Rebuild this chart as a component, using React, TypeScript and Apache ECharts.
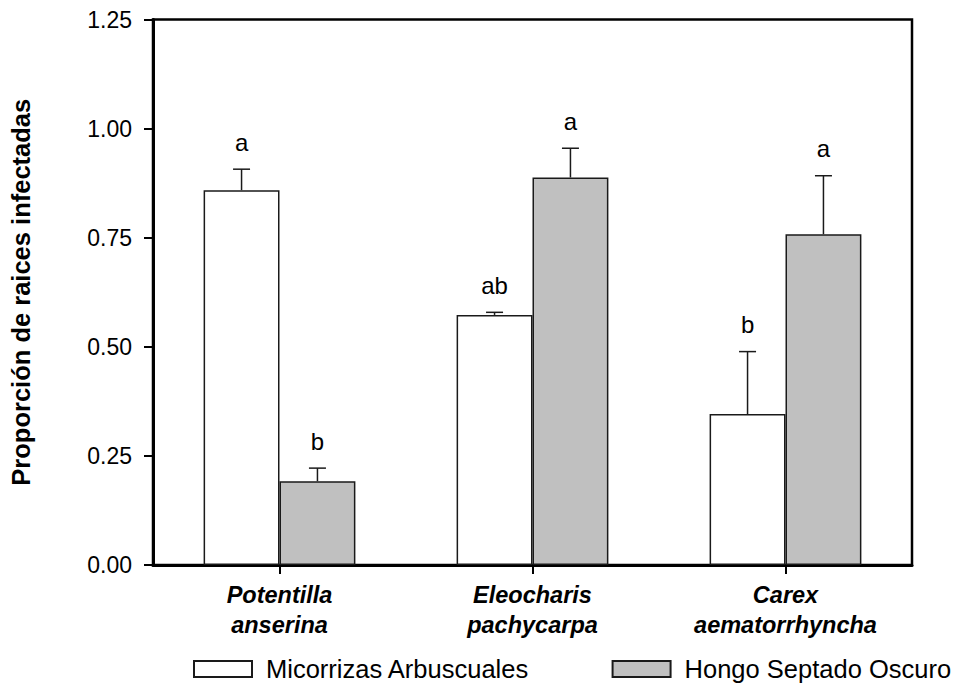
import React, { useEffect, useRef } from "react";
import * as echarts from "echarts";

const categories = ["Potentilla\nanserina", "Eleocharis\npachycarpa", "Carex\naematorrhyncha"];
const seriesNames = ["Micorrizas Arbuscuales", "Hongo Septado Oscuro"];
const amValues = [0.859, 0.573, 0.346];
const amErrors = [0.048, 0.006, 0.143];
const amLetters = ["a", "ab", "b"];
const dseValues = [0.192, 0.888, 0.758];
const dseErrors = [0.030, 0.067, 0.134];
const dseLetters = ["b", "a", "a"];
const yTicks = [0, 0.25, 0.5, 0.75, 1.0, 1.25];

const FONT = "'Liberation Sans', Arial, sans-serif";
const BAR_FRACTION = 0.3;

function errorSeries(values: number[], errors: number[], letters: string[], side: number) {
  return {
    type: "custom",
    silent: true,
    z: 5,
    data: values.map((v, i) => [i, v, v + errors[i]]),
    renderItem: (params: any, api: any) => {
      const idx = api.value(0);
      const band = api.size([1, 0])[0];
      const base = api.coord([idx, api.value(1)]);
      const top = api.coord([idx, api.value(2)]);
      const x = base[0] + side * band * BAR_FRACTION / 2;
      const half = 8.5;
      return {
        type: "group",
        children: [
          {
            type: "line",
            shape: { x1: x, y1: base[1], x2: x, y2: top[1] },
            style: { stroke: "#1a1a1a", lineWidth: 1.5 },
          },
          {
            type: "line",
            shape: { x1: x - half, y1: top[1], x2: x + half, y2: top[1] },
            style: { stroke: "#1a1a1a", lineWidth: 1.5 },
          },
          {
            type: "text",
            x: x,
            y: top[1] - 27,
            style: {
              text: letters[params.dataIndex],
              fontFamily: FONT,
              fontSize: 24,
              fill: "#000",
              align: "center",
              verticalAlign: "middle",
            },
          },
        ],
      };
    },
  };
}

export default function App() {
  const ref = useRef<HTMLDivElement>(null);
  useEffect(() => {
    if (!ref.current) return;
    const chart = echarts.init(ref.current, null, { renderer: "svg" });
    chart.setOption({
      animation: false,
      backgroundColor: "#fff",
      textStyle: { fontFamily: FONT },
      grid: {
        left: 152,
        top: 19.5,
        right: 44,
        bottom: 121,
        show: true,
        borderColor: "#000",
        borderWidth: 2.5,
        backgroundColor: "transparent",
      },
      legend: {
        data: seriesNames,
        left: 193,
        top: 656,
        padding: 0,
        itemWidth: 58,
        itemHeight: 16,
        itemGap: 82,
        icon: "rect",
        textStyle: {
          fontFamily: FONT,
          fontSize: 25.5,
          color: "#000",
          padding: [0, 0, 0, 9],
        },
      },
      xAxis: {
        type: "category",
        data: categories,
        axisLine: { show: true, lineStyle: { color: "#000", width: 3 } },
        axisTick: { show: true, alignWithLabel: true, length: 9, lineStyle: { color: "#000", width: 2 } },
        axisLabel: {
          fontFamily: FONT,
          fontSize: 23.5,
          fontWeight: "bold",
          fontStyle: "italic",
          color: "#000",
          lineHeight: 30,
          margin: 15,
        },
        splitLine: { show: false },
      },
      yAxis: {
        type: "value",
        min: 0,
        max: 1.25,
        interval: 0.25,
        name: "Proporción de raices infectadas",
        nameLocation: "middle",
        nameGap: 119,
        nameRotate: 90,
        nameTextStyle: { fontFamily: FONT, fontSize: 25.5, fontWeight: "bold", color: "#000" },
        axisLine: { show: true, lineStyle: { color: "#000", width: 3 } },
        axisTick: { show: true, length: 9, lineStyle: { color: "#000", width: 2 } },
        axisLabel: {
          fontFamily: FONT,
          fontSize: 23,
          color: "#000",
          margin: 21,
          formatter: (v: number) => (yTicks.includes(v) ? v.toFixed(2) : ""),
        },
        splitLine: { show: false },
      },
      series: [
        {
          name: seriesNames[0],
          type: "bar",
          data: amValues,
          barWidth: BAR_FRACTION * 100 + "%",
          barGap: "0%",
          itemStyle: { color: "#ffffff", borderColor: "#1a1a1a", borderWidth: 1.5 },
        },
        {
          name: seriesNames[1],
          type: "bar",
          data: dseValues,
          barWidth: BAR_FRACTION * 100 + "%",
          barGap: "0%",
          itemStyle: { color: "#c0c0c0", borderColor: "#1a1a1a", borderWidth: 1.5 },
        },
        errorSeries(amValues, amErrors, amLetters, -1),
        errorSeries(dseValues, dseErrors, dseLetters, 1),
      ],
    });
    return () => chart.dispose();
  }, []);
  return <div ref={ref} style={{ width: 956, height: 686, position: "absolute", left: 0, top: 0 }} />;
}
